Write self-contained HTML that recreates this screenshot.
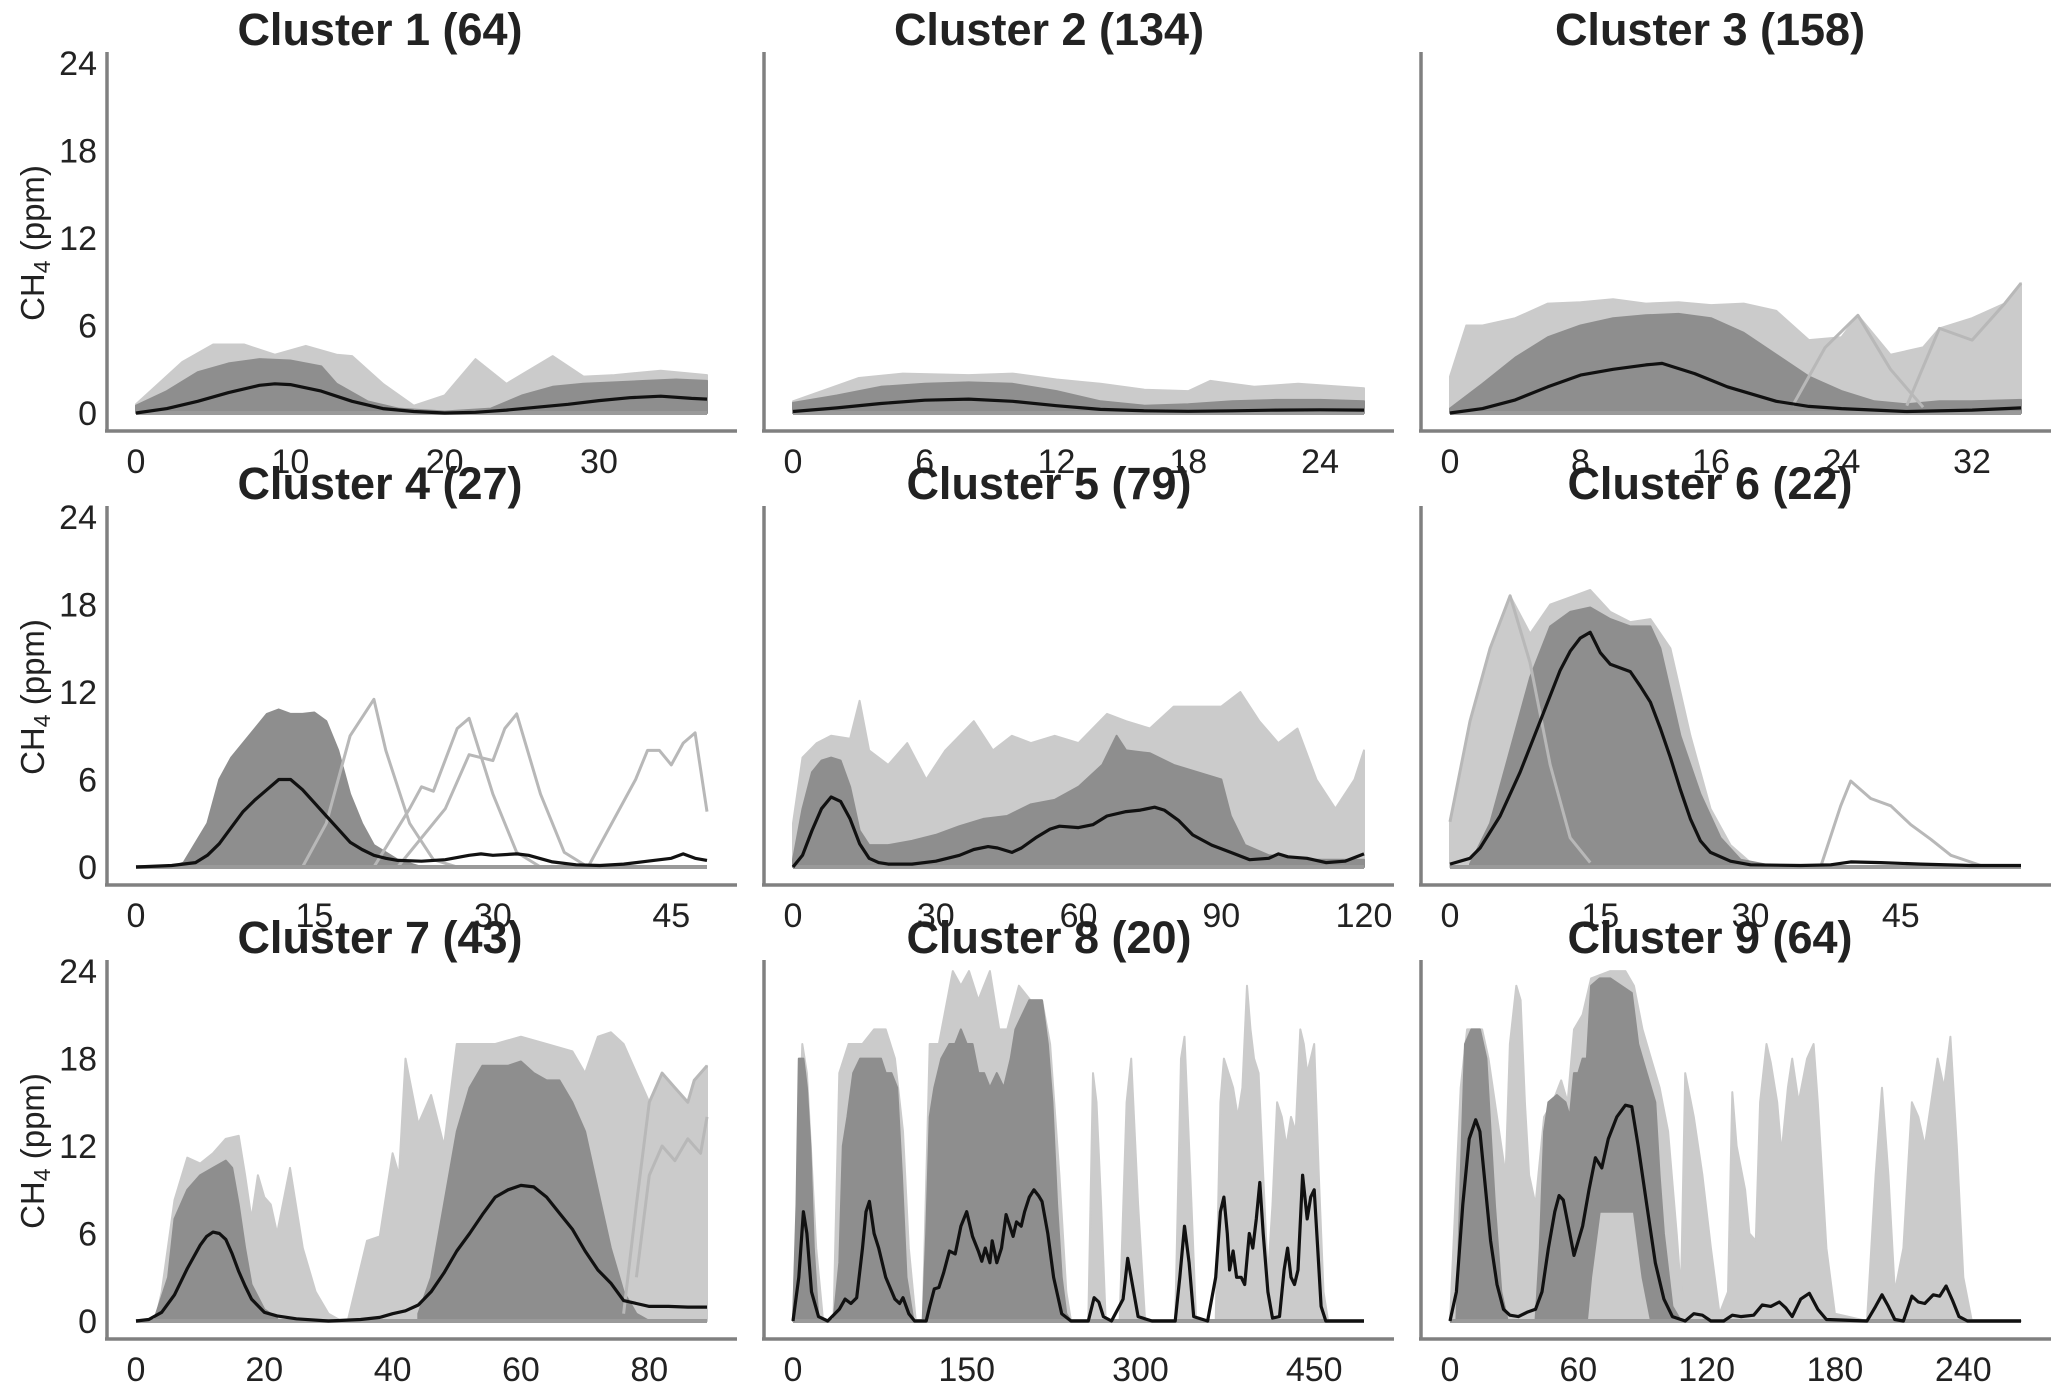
<!DOCTYPE html>
<html><head><meta charset="utf-8"><style>
html,body{margin:0;padding:0;background:#fff;}
svg{display:block;}
text{font-family:"Liberation Sans",sans-serif;fill:#222;}
</style></head><body>
<svg id="chart" width="2067" height="1384" viewBox="0 0 2067 1384" xmlns="http://www.w3.org/2000/svg"></svg>
<script>
// ---------- data ----------
const titles = ["Cluster 1 (64)","Cluster 2 (134)","Cluster 3 (158)","Cluster 4 (27)","Cluster 5 (79)","Cluster 6 (22)","Cluster 7 (43)","Cluster 8 (20)","Cluster 9 (64)"];
const xMax = [37,26,35,48,120,57,89,493,267];
const xTicks = [[0,10,20,30],[0,6,12,18,24],[0,8,16,24,32],[0,15,30,45],[0,30,60,90,120],[0,15,30,45],[0,20,40,60,80],[0,150,300,450],[0,60,120,180,240]];
const yTicks = [0,6,12,18,24];

const c1_mean = [[0,0],[2,0.3],[4,0.8],[6,1.4],[8,1.9],[9,2.0],[10,1.95],[12,1.5],[14,0.8],[16,0.3],[18,0.1],[20,0],[22,0.05],[24,0.2],[26,0.4],[28,0.6],[30,0.85],[32,1.05],[34,1.15],[36,1.0],[37,0.95]];
const c1_dense = [[0,0.5],[2,1.5],[4,2.8],[6,3.4],[8,3.7],[10,3.6],[12,3.2],[13,2.0],[15,0.8],[17,0.3],[20,0.1],[23,0.3],[25,1.2],[27,1.8],[29,2.0],[31,2.1],[33,2.2],[35,2.3],[37,2.2]];
const c1_light = [[0,0.6],[3,3.5],[5,4.7],[7,4.7],[9,4.0],[11,4.6],[13,4.0],[14,3.9],[16,2.0],[18,0.5],[20,1.2],[22,3.7],[24,2.0],[27,3.9],[29,2.5],[31,2.6],[34,2.9],[37,2.6]];

const c2_mean = [[0,0.1],[2,0.35],[4,0.65],[6,0.88],[8,0.95],[10,0.8],[12,0.5],[14,0.25],[16,0.15],[18,0.12],[20,0.15],[22,0.2],[24,0.22],[26,0.2]];
const c2_dense = [[0,0.7],[2,1.2],[4,1.8],[6,2.0],[8,2.1],[10,2.0],[12,1.5],[14,0.8],[16,0.5],[18,0.6],[20,0.8],[22,0.9],[24,0.9],[26,0.8]];
const c2_light = [[0,0.8],[3,2.4],[5,2.7],[8,2.6],[10,2.7],[12,2.3],[14,2.0],[16,1.6],[18,1.5],[19,2.2],[21,1.8],[23,2.0],[26,1.7]];

const c3_mean = [[0,0],[2,0.3],[4,0.9],[6,1.8],[8,2.6],[10,3.0],[12,3.3],[13,3.4],[15,2.7],[17,1.8],[20,0.8],[22,0.45],[24,0.3],[28,0.1],[32,0.2],[35,0.35]];
const c3_dense = [[0,0.3],[2,2.0],[4,3.8],[6,5.2],[8,6.0],[10,6.5],[12,6.7],[14,6.8],[16,6.5],[18,5.5],[20,4.0],[22,2.5],[24,1.5],[26,0.8],[28,0.6],[30,0.8],[32,0.8],[35,0.9]];
const c3_light = [[0,2.5],[1,6.0],[2,6.0],[4,6.5],[6,7.5],[8,7.6],[10,7.8],[12,7.5],[14,7.6],[16,7.4],[18,7.5],[20,7.0],[22,5.0],[24,5.2],[25,6.7],[27,4.0],[29,4.5],[30,5.8],[32,6.5],[34,7.5],[35,8.9]];
const c3_out1 = [[21,0.5],[23,4.5],[25,6.7],[27,3],[29,0.4]];
const c3_out2 = [[28,0.5],[30,5.8],[32,5.0],[34,7.5],[35,8.9]];

const c4_mean = [[0,0],[3,0.1],[5,0.3],[6,0.8],[7,1.6],[8,2.7],[9,3.8],[10,4.6],[11,5.3],[12,6.0],[13,6.0],[14,5.3],[15,4.4],[16,3.5],[17,2.6],[18,1.7],[19,1.2],[20,0.8],[21,0.6],[22,0.45],[24,0.4],[26,0.5],[28,0.8],[29,0.9],[30,0.8],[32,0.9],[33,0.8],[35,0.35],[37,0.15],[39,0.1],[41,0.2],[43,0.4],[45,0.6],[46,0.9],[47,0.6],[48,0.45]];
const c4_dense = [[3,0],[4,0.3],[6,3],[7,6],[8,7.5],[10,9.5],[11,10.5],[12,10.8],[13,10.5],[14,10.5],[15,10.6],[16,10],[17,8],[18,5],[19,3],[20,1.5],[22,0.5],[24,0]];
const c4_out1 = [[14,0],[16,3],[18,9],[20,11.5],[21,8],[23,3],[25,0.5],[27,0]];
const c4_out2 = [[20,0],[23,4],[24,5.5],[25,5.2],[27,9.5],[28,10.2],[30,5],[32,1],[34,0]];
const c4_out3 = [[22,0],[26,4],[28,7.7],[30,7.3],[31,9.5],[32,10.5],[34,5],[36,1],[38,0]];
const c4_out4 = [[38,0],[42,6],[43,8],[44,8],[45,7],[46,8.5],[47,9.2],[48,3.8]];

const c5_mean = [[0,0],[2,0.8],[4,2.5],[6,4.0],[8,4.8],[10,4.5],[12,3.3],[14,1.6],[16,0.6],[18,0.3],[20,0.2],[25,0.2],[30,0.4],[35,0.8],[38,1.2],[41,1.4],[43,1.3],[46,1.0],[48,1.3],[51,2.0],[54,2.6],[56,2.8],[60,2.7],[63,2.9],[66,3.5],[70,3.8],[73,3.9],[76,4.1],[78,3.9],[81,3.2],[84,2.2],[88,1.5],[92,1.0],[96,0.5],[100,0.6],[102,0.9],[104,0.7],[108,0.6],[112,0.3],[116,0.4],[120,0.9]];
const c5_dense = [[0,0.5],[2,4],[4,6.5],[6,7.3],[8,7.5],[10,7.3],[12,5.5],[14,2.5],[16,1.5],[20,1.5],[25,1.8],[30,2.2],[35,2.8],[40,3.3],[45,3.5],[50,4.3],[55,4.6],[60,5.5],[65,7.0],[68,9.0],[70,8.0],[75,7.8],[80,7.0],[85,6.5],[90,6.0],[92,3.5],[95,1.5],[100,0.8],[110,0.5],[120,0.5]];
const c5_light = [[0,3],[2,7.5],[5,8.5],[8,9],[12,8.8],[14,11.4],[16,8],[20,7],[24,8.5],[28,6],[32,8],[38,10],[42,8],[46,9],[50,8.5],[55,9],[60,8.5],[66,10.5],[70,10],[75,9.5],[80,11],[85,11],[90,11],[94,12],[98,10],[102,8.5],[106,9.5],[110,6],[114,4],[118,6],[120,8]];

const c6_mean = [[0,0.2],[2,0.6],[3,1.3],[5,3.5],[7,6.5],[9,10],[11,13.5],[12,14.8],[13,15.7],[14,16.1],[15,14.7],[16,13.9],[18,13.4],[19,12.4],[20,11.3],[21,9.5],[22,7.5],[23,5.3],[24,3.3],[25,1.8],[26,1.0],[28,0.4],[30,0.15],[35,0.1],[38,0.15],[40,0.35],[43,0.3],[47,0.2],[52,0.1],[57,0.1]];
const c6_light = [[0,0],[0,3.1],[2,10],[4,15],[6,18.6],[8,16],[10,18],[12,18.5],[14,19],[16,17.5],[18,16.8],[20,17],[22,15],[24,9],[26,4],[28,1.5],[30,0.3],[33,0]];
const c6_dense = [[2,0.2],[4,3],[6,8],[8,13],[10,16.5],[12,17.5],[14,17.8],[16,17],[18,16.5],[20,16.5],[21,15],[22,12],[23,9],[25,5],[27,2],[29,0.5],[32,0.1]];
const c6_out1 = [[37,0],[39,4.2],[40,5.9],[42,4.7],[44,4.2],[46,2.9],[48,1.9],[50,0.8],[53,0.1],[57,0]];
const c6_out2 = [[0,3.1],[2,10],[4,15],[6,18.6],[8,14],[10,7],[12,2],[14,0.3]];

const c7_mean = [[0,0],[2,0.1],[4,0.6],[6,1.8],[8,3.6],[10,5.2],[11,5.8],[12,6.1],[13,6.0],[14,5.6],[15,4.6],[16,3.4],[17,2.4],[18,1.5],[20,0.6],[22,0.35],[25,0.15],[30,0],[35,0.1],[38,0.25],[40,0.5],[42,0.7],[44,1.1],[46,2.0],[48,3.3],[50,4.8],[52,6.0],[54,7.3],[56,8.5],[58,9.0],[60,9.3],[62,9.2],[64,8.5],[66,7.4],[68,6.3],[70,4.8],[72,3.5],[74,2.6],[76,1.4],[78,1.2],[80,1.0],[83,1.0],[86,0.95],[89,0.95]];
const c7_light1 = [[3,0],[4,2],[6,8.3],[8,11.2],[10,10.8],[12,11.5],[14,12.5],[16,12.7],[17,10],[18,7],[19,10],[20,8.5],[21,8],[22,6],[24,10.5],[26,5],[28,2],[30,0.5],[32,0]];
const c7_dense1 = [[3,0.3],[5,3],[6,7],[8,9],[10,10],[12,10.5],[14,11],[15,10.5],[16,8],[17,5],[18,2.5],[20,0.8],[22,0.2]];
const c7_light2 = [[33,0],[36,5.5],[38,5.8],[40,11.5],[41,10],[42,18],[44,13.5],[46,15.5],[48,12],[50,19],[52,19],[56,19],[60,19.5],[64,19],[68,18.5],[70,17],[72,19.5],[74,19.8],[76,19],[78,17],[80,15],[82,17],[84,16],[86,15],[87,16.5],[89,17.5],[89,0]];
const c7_dense2 = [[44,0.5],[46,3],[48,8],[50,13],[52,16],[54,17.5],[56,17.5],[58,17.5],[60,17.8],[62,17],[64,16.5],[66,16.5],[68,15],[70,13],[72,9],[74,5],[76,2],[78,0.5],[80,0]];
const c7_out1 = [[76,0.5],[78,8],[80,15],[82,17],[84,16],[86,15],[87,16.5],[89,17.5]];
const c7_out2 = [[78,3],[80,10],[82,12],[84,11],[86,12.5],[88,11.5],[89,14]];

const c8_mean = [[0,0],[5,3],[9,7.5],[12,6],[16,2],[22,0.3],[30,0],[40,0.8],[45,1.5],[50,1.2],[55,1.6],[60,5],[63,7.5],[66,8.2],[70,6],[74,5],[80,3],[88,1.5],[92,1.2],[95,1.6],[100,0.5],[105,0],[115,0],[118,1],[122,2.2],[126,2.3],[130,3.3],[135,4.8],[140,4.6],[145,6.5],[150,7.5],[155,5.8],[160,4.8],[163,4.1],[166,5],[170,4],[172,5.5],[176,4.0],[180,5],[184,7.3],[186,6.8],[190,5.8],[193,6.8],[197,6.5],[200,7.5],[204,8.5],[208,9],[212,8.6],[215,8.2],[220,6],[225,3],[232,0.5],[240,0],[255,0],[260,1.6],[264,1.3],[268,0.3],[275,0],[285,1.5],[289,4.3],[293,2.5],[298,0.3],[310,0],[330,0],[334,3],[338,6.5],[342,4],[346,0.3],[358,0],[365,3],[369,7.5],[372,8.5],[375,6],[377,3.5],[380,4.8],[383,3],[387,3.0],[390,2.5],[394,6],[397,5],[400,7],[403,9.5],[406,6],[410,2],[414,0.2],[420,0.3],[424,3.5],[427,5],[430,3],[433,2.5],[436,3.5],[440,10],[442,8.5],[444,7],[447,8.5],[450,9],[453,5],[456,1],[460,0],[493,0]];
const c8_dense = [[0,0],[3,8],[5,18],[9,18],[12,16],[15,12],[18,5],[22,0],[35,0],[40,4],[43,12],[47,14],[52,17],[58,18],[62,18],[66,18],[70,18],[76,18],[80,17],[85,17],[90,16],[94,10],[98,3],[104,0],[112,0],[115,6],[118,14],[122,16],[128,18],[135,19],[140,19],[145,20],[150,19],[155,19],[160,17],[165,17],[170,16],[176,17],[182,16],[188,18],[192,20],[198,21],[204,22],[210,22],[215,22],[220,19],[224,15],[228,8],[232,3],[236,0.5],[240,0]];
const c8_light = [[0,0],[8,19],[12,17],[20,5],[26,0],[35,0],[40,17],[48,19],[60,19],[70,20],[80,20],[88,18],[95,13],[100,5],[106,0],[112,0],[118,19],[126,19],[138,24],[145,23],[152,24],[160,22],[170,24],[178,20],[185,20],[195,23],[205,22],[215,22],[222,19],[230,10],[236,2],[240,0],[255,0],[259,17],[262,15],[266,8],[270,0],[282,0],[288,15],[292,18],[298,8],[304,0],[330,0],[335,18],[338,19.5],[343,10],[348,0],[365,0],[369,15],[372,18],[376,17],[380,16],[384,14],[388,16],[392,23],[395,20],[398,18],[402,17],[406,10],[410,3],[414,8],[418,15],[422,14],[426,12],[430,14],[434,13],[438,20],[441,19],[444,17],[447,18],[450,19],[454,10],[458,2],[462,0]];

const c9_mean = [[0,0],[3,2],[6,8],[9,12.5],[12,13.8],[14,13],[16,10],[19,5.5],[22,2.5],[25,0.8],[28,0.4],[32,0.3],[36,0.6],[40,0.8],[43,2],[46,5],[49,7.5],[51,8.6],[53,8.3],[56,6],[58,4.5],[62,6.5],[65,9],[68,11.2],[71,10.5],[74,12.5],[78,14],[82,14.8],[85,14.7],[88,12],[92,8],[96,4],[100,1.5],[104,0.3],[110,0],[114,0.5],[118,0.4],[122,0],[128,0],[132,0.4],[136,0.3],[142,0.4],[146,1.1],[150,1.0],[154,1.3],[157,0.9],[160,0.3],[164,1.5],[168,1.9],[172,0.8],[176,0.1],[195,0],[199,1],[202,1.8],[205,1],[208,0.1],[212,0],[216,1.7],[219,1.3],[222,1.2],[226,1.8],[229,1.7],[232,2.4],[235,1.4],[238,0.3],[242,0],[267,0]];
const c9_denseA = [[3,0],[5,10],[7,19],[10,20],[14,20],[17,18],[19,13],[21,8],[24,2],[27,0]];
const c9_denseB = [[40,0],[42,5],[44,13],[46,15],[50,15.5],[54,15],[56,14],[58,17],[60,17],[62,18],[64,18],[66,23],[70,23.5],[75,23.5],[80,23],[85,22.5],[88,19],[92,17],[96,15],[98,10],[100,6],[104,1],[108,0]];
const c9_denseBLow = [[40,0],[64,0],[66,3],[70,7.5],[80,7.5],[86,7.5],[90,3],[94,0],[108,0]];
const c9_light = [[0,0],[5,16],[8,20],[15,20],[18,18],[22,14],[26,10],[28,19],[31,23],[33,22],[35,15],[37,10],[40,8],[44,14],[48,15],[52,16.5],[55,15],[58,20],[62,21],[66,23.5],[75,24],[82,24],[86,23],[90,20],[94,18],[98,16],[102,13],[106,6],[108,2],[110,17],[114,14],[118,10],[122,5],[126,0.5],[130,2],[132,15.7],[134,12],[138,9],[140,6],[143,5.5],[145,15],[148,19],[150,17.7],[153,15],[155,11.5],[158,16],[160,18],[163,15],[167,18],[170,19],[172,15],[176,5],[180,0.5],[195,0],[199,10],[202,16],[205,10],[208,2],[212,5],[216,15],[219,14],[222,12],[225,15],[228,18],[231,16],[234,19.5],[237,12],[240,3],[244,0],[267,0]];

// ---------- layout ----------
const colX = [107,764,1421];
const rowZero = [413,867,1321];
const titleOff = [273,285,289];
const Y_UNIT = 14.58, DATA_OFF = 29, DATA_W = 571, AXIS_LEN = 630;
const NS = "http://www.w3.org/2000/svg";
const svg = document.getElementById('chart');

function mk(tag, attrs, parent){
  const e = document.createElementNS(NS, tag);
  for (const k in attrs) e.setAttribute(k, attrs[k]);
  (parent||svg).appendChild(e);
  return e;
}
function sx(i, v){ const c=i%3; return colX[c]+DATA_OFF+v/xMax[i]*DATA_W; }
function sy(i, v){ const r=Math.floor(i/3); return rowZero[r]-v*Y_UNIT; }
function pts(i, arr){ return arr.map(p=>sx(i,p[0]).toFixed(1)+","+sy(i,p[1]).toFixed(1)).join(" "); }
function band(i, upper, lower, g, fill, name){
  let low = lower ? lower.slice().reverse() : [[upper[upper.length-1][0],0],[upper[0][0],0]];
  const e = mk('polygon',{points:pts(i,upper)+" "+pts(i,low), fill:fill, stroke:fill, 'stroke-width':2, 'stroke-linejoin':'round'}, g);
  
  
}
function line(i, arr, g, color, w, name){
  const e = mk('polyline',{points:pts(i,arr), fill:'none', stroke:color, 'stroke-width':w, 'stroke-linejoin':'round'}, g);
  
  
}

const LIGHT = "#cbcbcb", DENSE = "#8e8e8e", OUT = "#b8b8b8";
const panelLayers = [
  {light:[c1_light], dense:[[c1_dense,null]], outs:[], mean:c1_mean},
  {light:[c2_light], dense:[[c2_dense,null]], outs:[], mean:c2_mean},
  {light:[c3_light], dense:[[c3_dense,null]], outs:[c3_out1,c3_out2], mean:c3_mean},
  {light:[], dense:[[c4_dense,null]], outs:[c4_out1,c4_out2,c4_out3,c4_out4], mean:c4_mean},
  {light:[c5_light], dense:[[c5_dense,null]], outs:[], mean:c5_mean},
  {light:[c6_light], dense:[[c6_dense,null]], outs:[c6_out1,c6_out2], mean:c6_mean},
  {light:[c7_light1,c7_light2], dense:[[c7_dense1,null],[c7_dense2,null]], outs:[c7_out1,c7_out2], mean:c7_mean},
  {light:[c8_light], dense:[[c8_dense,null]], outs:[], mean:c8_mean},
  {light:[c9_light], dense:[[c9_denseA,null],[c9_denseB,c9_denseBLow]], outs:[], mean:c9_mean}
];

for (let i=0;i<9;i++){
  const c=i%3, r=Math.floor(i/3);
  const ax=colX[c], z=rowZero[r];
  const g = mk('g',{});
  
  

  const t = mk('text',{x:ax+titleOff[c], y:z-368, 'text-anchor':'middle', 'font-size':45, 'font-weight':'bold'}, g);
  t.textContent = titles[i];
  
  

  const L = panelLayers[i];
  L.light.forEach(a=>band(i,a,null,g,LIGHT,'trace-envelope'));
  L.dense.forEach(d=>band(i,d[0],d[1],g,DENSE,'trace-density'));
  L.outs.forEach(a=>line(i,a,g,OUT,3,'outlier-trace'));
  line(i,[[0,0],[xMax[i],0]],g,"#9a9a9a",4,'zero-traces');
  line(i,L.mean,g,"#111",3.2,'mean-line');

  const ya = mk('line',{x1:ax, y1:z-361, x2:ax, y2:z+19, stroke:'#808080', 'stroke-width':3.5}, g);
  
  
  const xa = mk('line',{x1:ax-2, y1:z+18, x2:ax+AXIS_LEN, y2:z+18, stroke:'#808080', 'stroke-width':3.5}, g);
  
  

  xTicks[i].forEach(v=>{
    const tl = mk('text',{x:sx(i,v), y:z+60, 'text-anchor':'middle', 'font-size':34}, g);
    tl.textContent = v;
    
    
  });
  if (c===0){
    yTicks.forEach(v=>{
      const tl = mk('text',{x:97, y:sy(i,v)+12, 'text-anchor':'end', 'font-size':34}, g);
      tl.textContent = v;
      
      
    });
    const yl = mk('text',{x:0, y:0, 'text-anchor':'middle', 'font-size':33, transform:'translate(44,'+(z-170)+') rotate(-90)'}, g);
    
    
    yl.appendChild(document.createTextNode('CH'));
    const sub = mk('tspan',{'font-size':23, dy:6}, yl);
    sub.textContent = '4';
    const rest = mk('tspan',{dy:-6}, yl);
    rest.textContent = ' (ppm)';
  }
}
</script>
</body></html>
